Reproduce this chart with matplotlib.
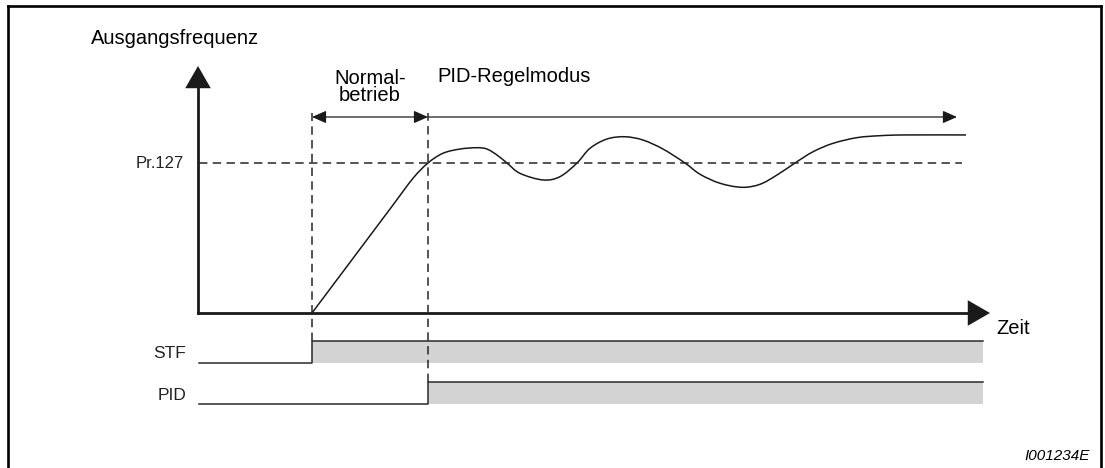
import matplotlib
matplotlib.use("Agg")
import matplotlib.pyplot as plt
from matplotlib.patches import FancyArrowPatch, PathPatch
from matplotlib.path import Path

# ---- data -------------------------------------------------------------
# time in arbitrary units, output frequency in % of the Pr.127 threshold
t_stf_on = 11.4          # start signal STF switches on
t_pid_on = 23.0          # PID control takes over
t_end = 78.5             # end of the signal traces
pr127 = 100.0            # Pr.127 switch-over frequency

curve_t = [11.4, 19.5, 21.5, 23.0, 24.5, 26.2, 27.9, 28.9, 29.9, 30.9,
           32.2, 34.5, 36.2, 37.9, 39.2, 40.9, 42.7, 44.5, 46.5, 48.7,
           50.2, 52.2, 54.4, 56.2, 57.9, 59.7, 61.5, 63.5, 65.9, 68.2,
           70.7, 76.8]
curve_f = [0.0, 72.0, 89.8, 100.0, 106.5, 109.3, 110.2, 109.3, 105.3, 100.0,
           93.1, 88.7, 90.9, 100.0, 109.8, 116.0, 117.5, 115.3, 109.3, 100.0,
           92.5, 86.5, 83.8, 85.8, 92.0, 100.0, 107.5, 113.1, 116.9, 118.2,
           118.7, 118.7]

signal_names = ["STF", "PID"]
signal_on = [t_stf_on, t_pid_on]

# ---- figure / coordinate frame ---------------------------------------
W, H, DPI = 1105, 468, 100
fig = plt.figure(figsize=(W / DPI, H / DPI), dpi=DPI)
ax = fig.add_axes([0, 0, 1, 1])
# 10 px per time unit, 1.5 px per percent; origin of the chart axes
X0, Y0, SX, SY = 198, 313, 10.0, 1.5
ax.set_xlim(-X0 / SX, (W - X0) / SX)
ax.set_ylim(-(H - Y0) / SY, Y0 / SY)
ax.axis("off")

font = "Liberation Sans"
ink = "#1a1a1a"
dash_col = "#262626"


def smooth_path(xs, ys):
    """Catmull-Rom curve through the given points as cubic Bezier segments."""
    pts = list(zip(xs, ys))
    verts = [pts[0]]
    codes = [Path.MOVETO]
    n = len(pts)
    for i in range(n - 1):
        p0 = pts[i - 1] if i > 0 else pts[i]
        p1, p2 = pts[i], pts[i + 1]
        p3 = pts[i + 2] if i + 2 < n else pts[i + 1]
        c1 = (p1[0] + (p2[0] - p0[0]) / 6, p1[1] + (p2[1] - p0[1]) / 6)
        c2 = (p2[0] - (p3[0] - p1[0]) / 6, p2[1] - (p3[1] - p1[1]) / 6)
        verts += [c1, c2, p2]
        codes += [Path.CURVE4] * 3
    return Path(verts, codes)


# outer frame (open at the bottom)
for xs, ys in [([8 / W, 8 / W], [-0.1, 1 - 6 / H]),
               ([8 / W, 1101 / W], [1 - 6 / H, 1 - 6 / H]),
               ([1101 / W, 1101 / W], [1 - 6 / H, -0.1])]:
    ax.plot(xs, ys, color="black", lw=1.9, transform=ax.transAxes,
            solid_capstyle="projecting", clip_on=False)

# chart axes with filled arrow heads
y_top = (Y0 - 66) / SY
x_right = (990 - X0) / SX
ax.plot([0, 0], [0, y_top - 10], color=ink, lw=2.0, solid_capstyle="projecting")
ax.plot([0, x_right - 1], [0, 0], color=ink, lw=2.0, solid_capstyle="projecting")
for a, b in [((0, y_top - 12), (0, y_top)), ((x_right - 2, 0), (x_right, 0))]:
    ax.add_patch(FancyArrowPatch(a, b, arrowstyle="-|>,head_length=16,head_width=9.2",
                                 mutation_scale=1, color=ink, lw=0,
                                 shrinkA=0, shrinkB=0))

# Pr.127 reference level and the two switching instants
ax.plot([0.1, 76.4], [pr127, pr127], color=dash_col, lw=1.1, dashes=(5.5, 3.5))
v_top = (Y0 - 113) / SY
row_base = [-33.3, -60.7]
row_h = 14.7
for t_on, base in zip(signal_on, row_base):
    ax.plot([t_on, t_on], [base + row_h, v_top], color=dash_col, lw=1.1,
            dashes=(5.5, 3.5))

# output frequency
ax.add_patch(PathPatch(smooth_path(curve_t, curve_f), facecolor="none",
                       edgecolor=ink, lw=1.1, joinstyle="round"))

# mode ranges
y_arr = (Y0 - 117) / SY
for a, b, style in [((t_stf_on, y_arr), (t_pid_on, y_arr),
                     "<|-|>,head_length=8.6,head_width=3.8"),
                    ((t_pid_on, y_arr), (75.9, y_arr),
                     "-|>,head_length=8.6,head_width=3.8")]:
    ax.add_patch(FancyArrowPatch(a, b, arrowstyle=style, mutation_scale=1,
                                 color=ink, lw=0.9, shrinkA=0, shrinkB=0))

# digital signals
for name, t_on, base in zip(signal_names, signal_on, row_base):
    ax.fill_between([t_on, t_end], base, base + row_h, color="#d3d3d3", lw=0)
    ax.plot([0.1, t_on, t_on, t_end], [base, base, base + row_h, base + row_h],
            color="#2a2a2a", lw=1.1)
    ax.text(-1.2, base + 6.0, name, ha="right", va="center", fontsize=12.5,
            family=font, color="#222222")

# labels
ax.text(-10.7, (Y0 - 39) / SY, "Ausgangsfrequenz", ha="left", va="center",
        fontsize=14.5, family=font, color="black")
ax.text(17.2, (Y0 - 87) / SY, "Normal-\nbetrieb", ha="center", va="center",
        fontsize=14.5, family=font, color="black", linespacing=0.82)
ax.text(23.9, (Y0 - 76) / SY, "PID-Regelmodus", ha="left", va="center",
        fontsize=14.5, family=font, color="black")
ax.text(-1.4, pr127, "Pr.127", ha="right", va="center", fontsize=12,
        family=font, color="#222222")
ax.text(79.8, (Y0 - 328) / SY, "Zeit", ha="left", va="center",
        fontsize=14.5, family=font, color="black")
ax.text(89.2, (Y0 - 456) / SY, "I001234E", ha="right", va="center",
        fontsize=11, family=font, style="italic", color="black")

fig.savefig("out.png", dpi=DPI)
